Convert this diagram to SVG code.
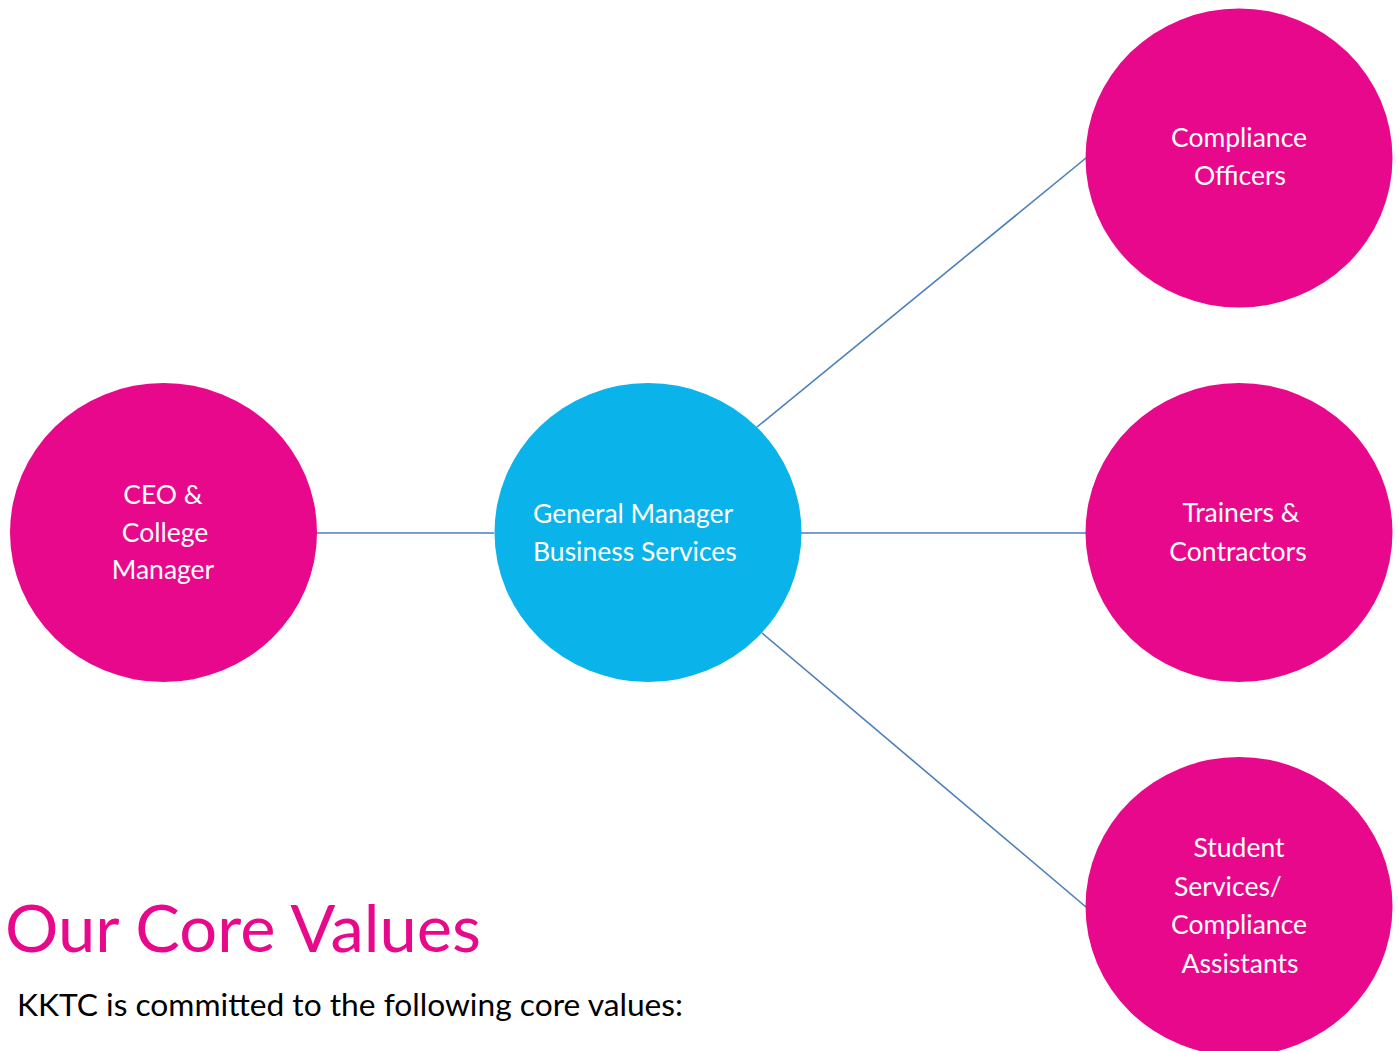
<svg xmlns="http://www.w3.org/2000/svg" width="1398" height="1051" viewBox="0 0 1398 1051">
  <style>
    .pink { fill: #E8088B; }
    .blue { fill: #0AB3E9; }
    .lbl { font-family: Lato, "Open Sans", "Liberation Sans", sans-serif; font-size: 26.5px; fill: #FFFFFF; }
    .mid { text-anchor: middle; }
    .edge { stroke: #4A7EBB; stroke-width: 1.6; fill: none; }
    .title { font-family: Lato, "Open Sans", "Liberation Sans", sans-serif; font-size: 66px; fill: #E8088B; }
    .body { font-family: Lato, "Open Sans", "Liberation Sans", sans-serif; font-size: 30px; fill: #000000; }
  </style>
  <rect width="1398" height="1051" fill="#FFFFFF"/>

  <!-- connectors -->
  <g id="connectors">
    <line class="edge" x1="317" y1="533" x2="494" y2="533"/>
    <line class="edge" x1="801" y1="533" x2="1086" y2="533"/>
    <line class="edge" x1="757" y1="427" x2="1086" y2="158"/>
    <line class="edge" x1="762" y1="633" x2="1086" y2="907"/>
  </g>

  <!-- nodes -->
  <g id="ceo">
    <ellipse class="pink" cx="163.5" cy="532.5" rx="153.5" ry="149.5"/>
    <text class="lbl mid" x="163" y="504">CEO &amp;</text>
    <text class="lbl mid" x="165" y="542">College</text>
    <text class="lbl mid" x="163" y="579">Manager</text>
  </g>

  <g id="general-manager">
    <ellipse class="blue" cx="648" cy="532.5" rx="153.5" ry="149.5"/>
    <text class="lbl" x="533" y="523">General Manager</text>
    <text class="lbl" x="533" y="561">Business Services</text>
  </g>

  <g id="compliance-officers">
    <ellipse class="pink" cx="1239" cy="158" rx="153.5" ry="149.5"/>
    <text class="lbl mid" x="1239" y="147">Compliance</text>
    <text class="lbl mid" x="1240" y="185">Officers</text>
  </g>

  <g id="trainers">
    <ellipse class="pink" cx="1239" cy="532.5" rx="153.5" ry="149.5"/>
    <text class="lbl mid" x="1241" y="522">Trainers &amp;</text>
    <text class="lbl mid" x="1238" y="561">Contractors</text>
  </g>

  <g id="student-services">
    <ellipse class="pink" cx="1239" cy="906.5" rx="153.5" ry="149.5"/>
    <text class="lbl mid" x="1239" y="857">Student</text>
    <text class="lbl" x="1174" y="896">Services/</text>
    <text class="lbl mid" x="1239" y="934">Compliance</text>
    <text class="lbl mid" x="1240" y="973">Assistants</text>
  </g>

  <!-- heading and intro line -->
  <text class="title" x="5" y="952" textLength="476" lengthAdjust="spacingAndGlyphs">Our Core Values</text>
  <text class="body" x="17" y="1016" textLength="666" lengthAdjust="spacingAndGlyphs">KKTC is committed to the following core values:</text>
</svg>
